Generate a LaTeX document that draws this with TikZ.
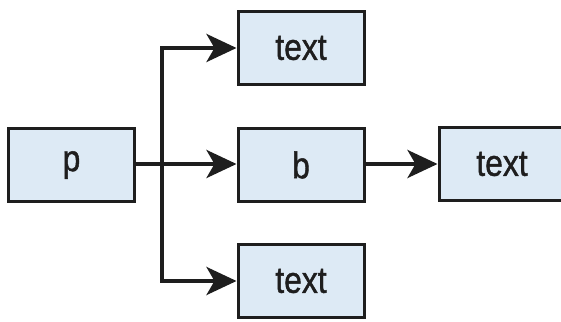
\documentclass[tikz,border=0pt]{standalone}
\usepackage{fontspec}
\setmainfont{Liberation Sans}
\newfontfamily\boxfont{Liberation Sans}[FakeBold=1.3]
\usetikzlibrary{arrows.meta}
\definecolor{boxfill}{HTML}{DDEAF5}
\definecolor{ink}{HTML}{1E1E1E}
\begin{document}
\begin{tikzpicture}[x=1pt,y=1pt,
  box/.style={draw=ink, line width=3pt, fill=boxfill, minimum width=126pt, minimum height=73pt, inner sep=0pt, font=\boxfont\fontsize{37}{40}\selectfont, text=ink},
  conn/.style={draw=ink, line width=4pt, -{Stealth[length=30pt,width=28pt,inset=8pt]}}]
\useasboundingbox (0,0) rectangle (561,321);
\node[box] (p) at (71.5,156) {\scalebox{0.86}[1]{p}};
\node[box] (t1) at (301,273) {\scalebox{0.86}[1]{text}};
\node[box] (b) at (301,156) {\scalebox{0.86}[1]{b}};
\node[box] (t3) at (301,40) {\scalebox{0.86}[1]{text}};
\node[box] (t2) at (502,157) {\scalebox{0.86}[1]{text}};
\coordinate (j) at (162,157);
\draw[conn] (p.east |- j) -- (b.west |- j);
\draw[conn] (j) |- (t1.west);
\draw[conn] (j) |- (t3.west);
\draw[conn] (b.east |- j) -- (t2.west |- j);
\end{tikzpicture}
\end{document}
